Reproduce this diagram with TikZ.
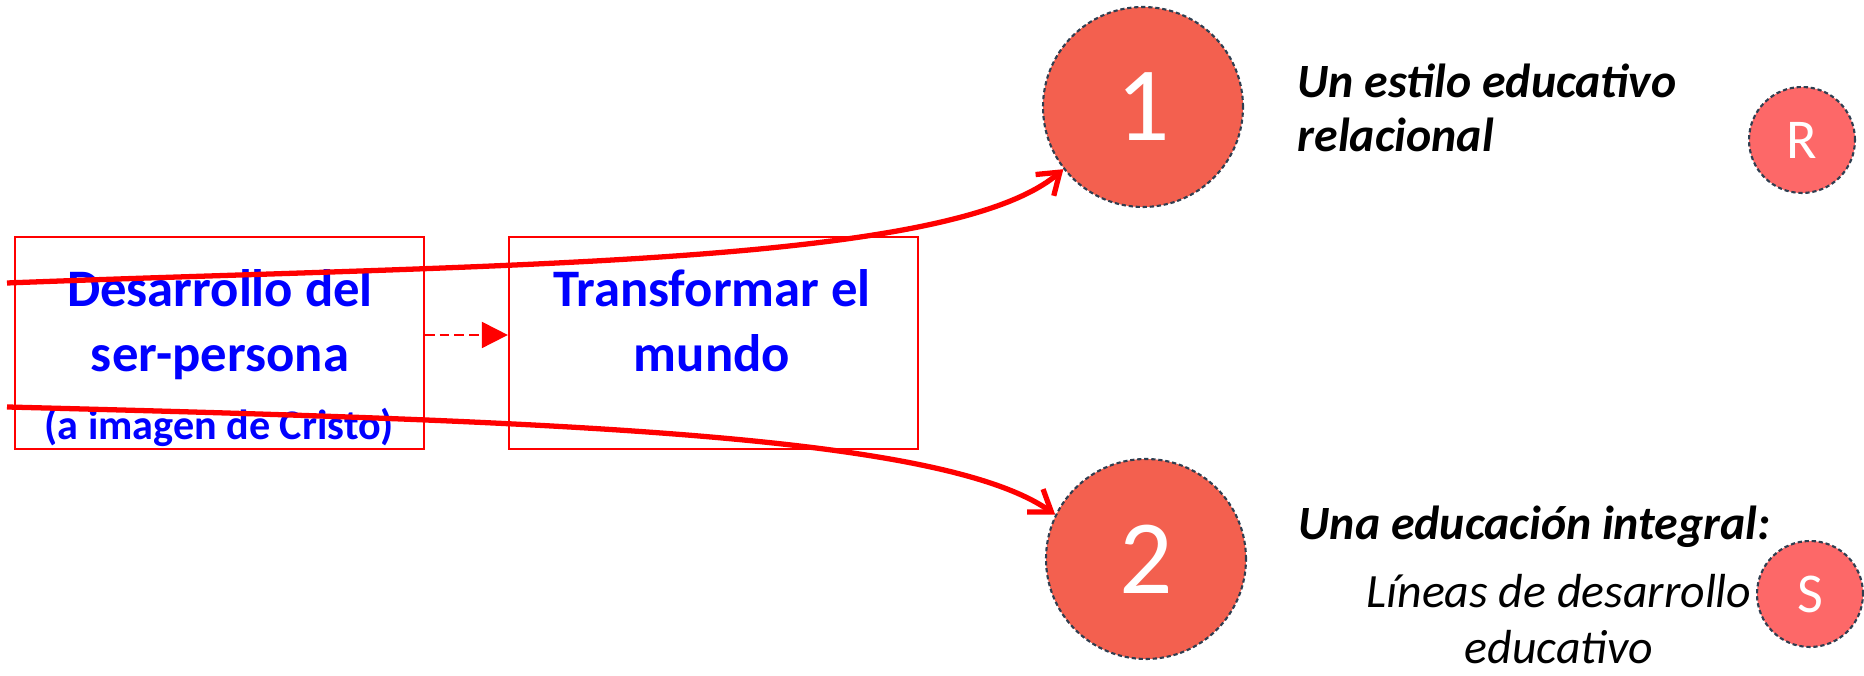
\documentclass[tikz,border=0pt]{standalone}
\usepackage{fontspec}
\setmainfont{Carlito}
\usepackage{tikz}
\usetikzlibrary{arrows.meta,shapes,positioning}
\usepackage{xcolor}
\definecolor{dfred}{RGB}{255,0,0}
\definecolor{dfblue}{RGB}{0,0,255}
\definecolor{dfcoral}{RGB}{243,96,79}
\definecolor{dfpink}{RGB}{253,104,104}
\definecolor{dfslate}{RGB}{47,62,80}
\tikzstyle{process} = [rectangle, minimum width=4.09cm, minimum height=2.12cm, draw=dfred, line width=0.5pt, inner sep=0pt]
\tikzstyle{boxtext} = [text=dfblue, font=\bfseries\fontsize{15}{18.5}\selectfont, align=center, inner sep=0pt]
\tikzstyle{subtext} = [text=dfblue, font=\bfseries\fontsize{12}{14}\selectfont, inner sep=0pt]
\tikzstyle{bigdot} = [circle, minimum size=2cm, inner sep=0pt, fill=dfcoral, draw=dfslate, line width=0.6pt, dash pattern=on 1.2pt off 0.8pt, text=white, font=\fontsize{30}{36}\selectfont]
\tikzstyle{smalldot} = [circle, minimum size=1.06cm, inner sep=0pt, fill=dfpink, draw=dfslate, line width=0.6pt, dash pattern=on 1.2pt off 0.8pt, text=white, font=\fontsize{16}{19}\selectfont]
\tikzstyle{heading} = [font=\bfseries\itshape\fontsize{13.6}{15.6}\selectfont, align=left, inner sep=0pt]
\tikzstyle{note} = [font=\itshape\fontsize{13.6}{16.2}\selectfont, align=center, inner sep=0pt]
\tikzstyle{arrow} = [line width=1.5pt, color=dfred, -{Straight Barb[length=2mm,width=2.8mm]}]
\tikzstyle{dasharrow} = [line width=0.55pt, color=dfred, dash pattern=on 2.8pt off 1.4pt, -{Triangle[length=2.6mm,width=2.6mm]}]

\begin{document}
\begin{tikzpicture}
\useasboundingbox (0,0) rectangle (18.64,6.76);
\node (desarrollo) [process] at (2.195,3.33) {};
\node (transformar) [process, right=0.83cm of desarrollo] {};
\node (desarrolloTxt) [boxtext, anchor=base] at (2.20,3.04) {Desarrollo del\\ser-persona};
\node (cristo) [subtext, anchor=base] at (2.19,2.36) {(a imagen de Cristo)};
\node (transformarTxt) [boxtext, anchor=base] at (7.12,3.04) {Transformar el\\mundo};
\node (uno) [bigdot] at (11.43,5.69) {1};
\node (dos) [bigdot] at (11.46,1.17) {2};
\node (relacional) [heading, anchor=base west] at (12.97,5.24) {Un estilo educativo\\relacional};
\node (integral) [heading, anchor=base west] at (12.98,1.36) {Una educación integral:};
\node (lineas) [note, anchor=base] at (15.59,0.12) {Líneas de desarrollo\\educativo};
\node (erre) [smalldot] at (18.02,5.36) {R};
\node (ese) [smalldot] at (18.10,0.82) {S};
\coordinate (inA) at (0.07,3.93);
\coordinate (inB) at (0.07,2.69);
\draw [dasharrow] ([yshift=0.8mm]desarrollo.east) -- ([yshift=0.8mm]transformar.west);
\draw [arrow] (inA) .. controls (5,4.12) and (9.5,4.1) .. (uno.218);
\draw [arrow] (inB) .. controls (5.5,2.55) and (9.4,2.42) .. (dos.154);
\end{tikzpicture}
\end{document}
